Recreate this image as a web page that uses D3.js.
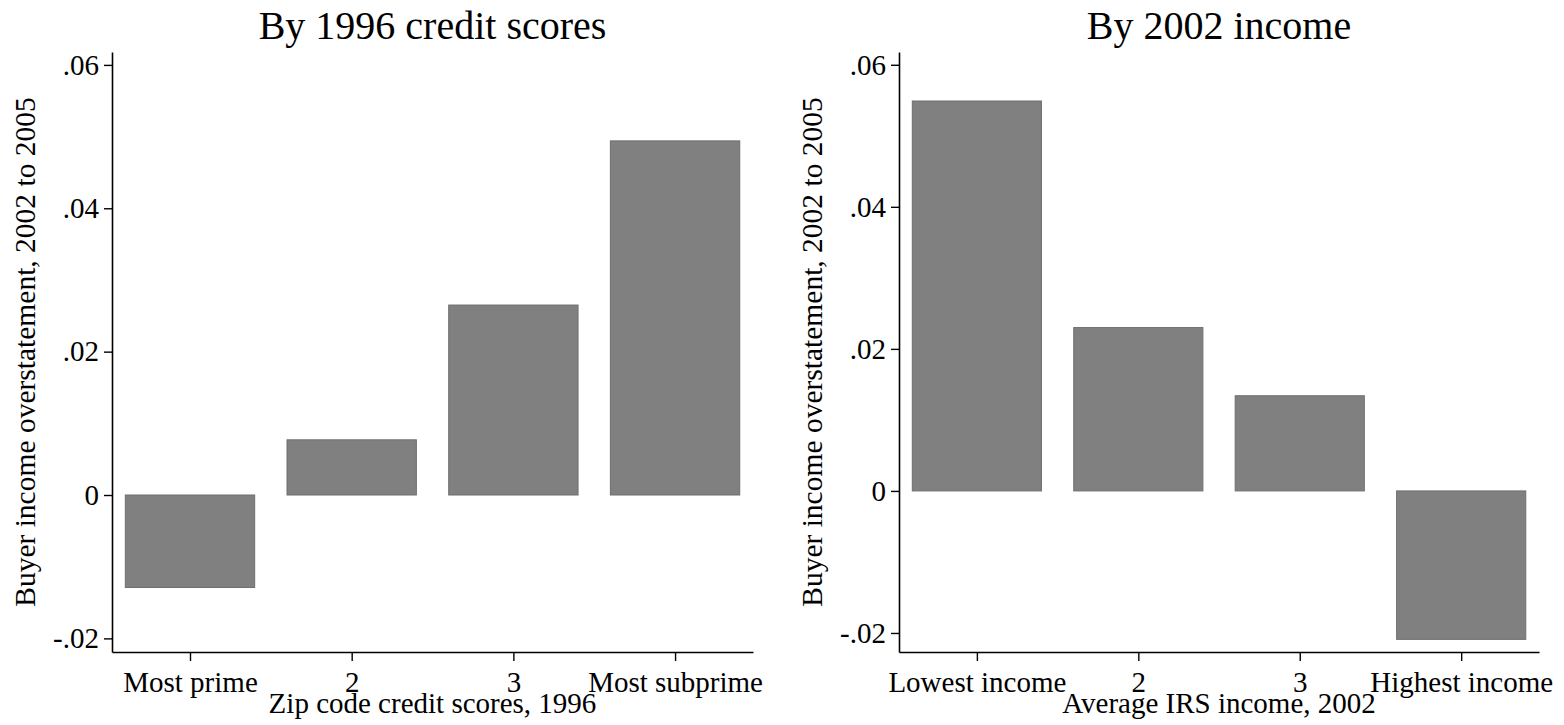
<!DOCTYPE html>
<html>
<head>
<meta charset="utf-8">
<script src="https://cdn.jsdelivr.net/npm/d3@7"></script>
<style>
  html, body { margin: 0; padding: 0; background: #fff; }
  svg text { font-family: "Liberation Serif", "Times New Roman", serif; fill: #000; }
</style>
</head>
<body>
<svg id="chart" width="1564" height="725"></svg>
<script>
// ---- data ----
const leftTitle = "By 1996 credit scores";
const leftXTitle = "Zip code credit scores, 1996";
const leftCategories = ["Most prime", "2", "3", "Most subprime"];
const leftValues = [-0.0129, 0.0077, 0.0265, 0.0494];

const rightTitle = "By 2002 income";
const rightXTitle = "Average IRS income, 2002";
const rightCategories = ["Lowest income", "2", "3", "Highest income"];
const rightValues = [0.0549, 0.0230, 0.0134, -0.0209];

const yTitle = "Buyer income overstatement, 2002 to 2005";
const yTicks = [-0.02, 0, 0.02, 0.04, 0.06];
const yTickLabels = ["-.02", "0", ".02", ".04", ".06"];

// ---- drawing ----
const svg = d3.select("#chart");

function panel(cfg) {
  const g = svg.append("g");
  const x = d3.scaleLinear().domain([-0.4824, 3.482]).range([cfg.x0, cfg.x1]);
  const y = d3.scaleLinear().domain(cfg.yDomain).range([cfg.yBottom, cfg.yTop]);
  const step = x(1) - x(0);
  const bw = step * 0.8;

  g.selectAll("rect.bar").data(cfg.values).enter().append("rect")
    .attr("class", "bar")
    .attr("x", (d, i) => x(i) - bw / 2)
    .attr("width", bw)
    .attr("y", d => y(Math.max(0, d)))
    .attr("height", d => Math.abs(y(d) - y(0)))
    .attr("fill", "#808080")
    .attr("stroke", "#6e6e6e")
    .attr("stroke-width", 1);

  const yAxis = d3.axisLeft(y).tickValues(yTicks)
    .tickFormat((d, i) => yTickLabels[i])
    .tickSize(8).tickSizeOuter(0).tickPadding(5);
  const ya = g.append("g").attr("transform", `translate(${cfg.x0},0)`).call(yAxis);
  ya.selectAll("text").style("font-size", "29px").style("font-family", '"Liberation Serif", serif');
  ya.select(".domain").attr("stroke", "#000").attr("stroke-width", 1.6);
  ya.selectAll(".tick line").attr("stroke", "#000").attr("stroke-width", 1.4);

  const xAxis = d3.axisBottom(x).tickValues([0, 1, 2, 3])
    .tickFormat(i => cfg.categories[i])
    .tickSize(9).tickSizeOuter(0).tickPadding(10.5);
  const xa = g.append("g").attr("transform", `translate(0,${cfg.yBottom})`).call(xAxis);
  xa.selectAll("text").style("font-size", "29px").style("font-family", '"Liberation Serif", serif');
  xa.select(".domain").attr("stroke", "#000").attr("stroke-width", 1.6);
  xa.selectAll(".tick line").attr("stroke", "#000").attr("stroke-width", 1.4);

  const cx = (cfg.x0 + cfg.x1) / 2;
  g.append("text").attr("x", cx).attr("y", 39).attr("text-anchor", "middle")
    .style("font-size", "40px").text(cfg.title);
  g.append("text").attr("x", cx).attr("y", 713).attr("text-anchor", "middle")
    .style("font-size", "29px").text(cfg.xTitle);
  const cy = (cfg.yTop + cfg.yBottom) / 2;
  g.append("text").attr("transform", `translate(${cfg.yLabelX},${cy}) rotate(-90)`)
    .attr("text-anchor", "middle").style("font-size", "29.5px").text(yTitle);
}

panel({
  x0: 112, x1: 753, yTop: 52, yBottom: 652,
  yDomain: [-0.0219, 0.0618],
  categories: leftCategories, values: leftValues,
  title: leftTitle, xTitle: leftXTitle, yLabelX: 35
});

panel({
  x0: 899, x1: 1539, yTop: 52, yBottom: 652,
  yDomain: [-0.02268, 0.0618],
  categories: rightCategories, values: rightValues,
  title: rightTitle, xTitle: rightXTitle, yLabelX: 822
});
</script>
</body>
</html>
